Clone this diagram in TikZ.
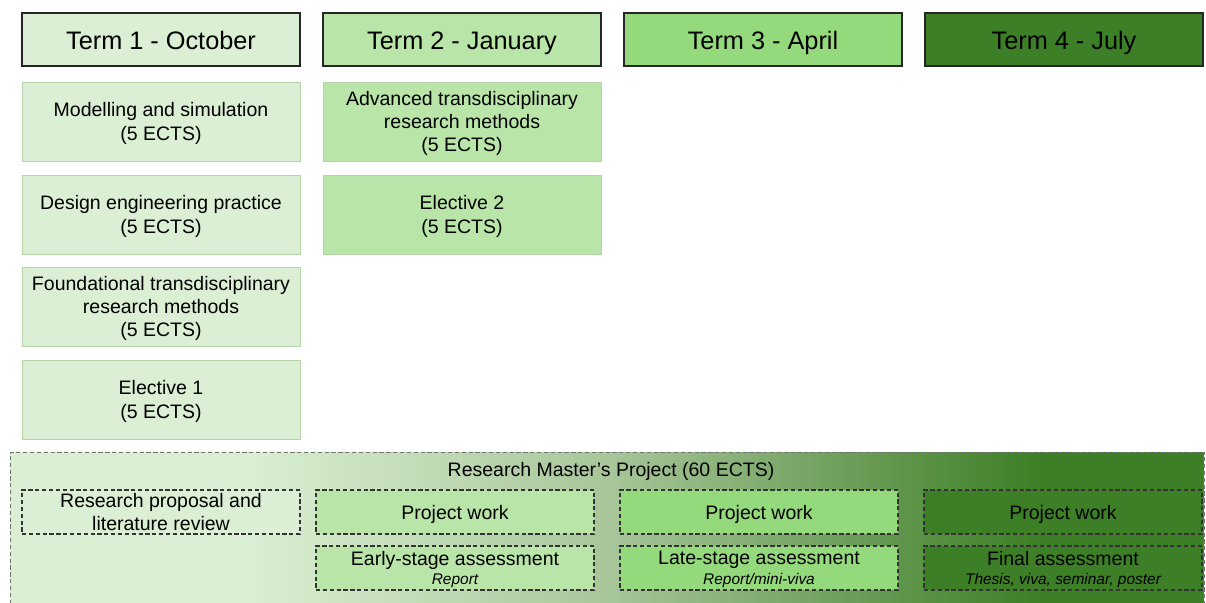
\documentclass[tikz,border=0pt]{standalone}
\usepackage{fontspec}
\setmainfont{Liberation Sans}
\usepackage{xcolor}
\definecolor{termA}{HTML}{DAEFD3}
\definecolor{termB}{HTML}{B9E5A8}
\definecolor{termC}{HTML}{94D97B}
\definecolor{termD}{HTML}{3D7F27}
\definecolor{projmid}{HTML}{A8C69A}
\definecolor{modline}{HTML}{B6D3AA}
\pgfdeclarehorizontalshading{projshade}{100bp}{color(0bp)=(termA); color(35bp)=(termA); color(50bp)=(projmid); color(68bp)=(termD); color(100bp)=(termD)}
\newcommand{\headfont}{\fontsize{14.4}{17}\selectfont}
\newcommand{\modfont}{\fontsize{11.1}{13.2}\selectfont}
\newcommand{\notefont}{\fontsize{8.8}{10.5}\selectfont\itshape}

\begin{document}
\begin{tikzpicture}[x=0.02cm,y=-0.02cm,
    term/.style={draw=black!85,line width=0.8pt,minimum width=5.56cm,minimum height=1.06cm,text height=2.05ex,text depth=0pt,font=\headfont},
    module/.style={draw=modline,line width=0.5pt,minimum width=5.56cm,minimum height=1.58cm,align=center,text depth=0pt,font=\modfont},
    task/.style={draw=black!80,line width=0.7pt,dash pattern=on 2.4pt off 1.5pt,minimum width=5.56cm,minimum height=0.88cm,align=center,text depth=0pt,font=\modfont,inner sep=1pt},
    projbox/.style={draw=black!55,line width=0.7pt,dash pattern=on 2.4pt off 1.5pt,shading=projshade,minimum width=23.88cm,minimum height=3.3cm}]
        \useasboundingbox (0,0) rectangle (1206,602);
        % terms
        \node[term,fill=termA] (t1) at (161,39.5) {Term 1 - October};
        \node[term,fill=termB] (t2) at (462,39.5) {Term 2 - January};
        \node[term,fill=termC] (t3) at (763,39.5) {Term 3 - April};
        \node[term,fill=termD] (t4) at (1064,39.5) {Term 4 - July};
        % taught modules
        \node[module,fill=termA] (modsim) at (161,121.5) {Modelling and simulation\\(5 ECTS)};
        \node[module,fill=termA] (design) at (161,214.5) {Design engineering practice\\(5 ECTS)};
        \node[module,fill=termA] (found) at (161,306.5) {Foundational transdisciplinary\\research methods\\(5 ECTS)};
        \node[module,fill=termA] (elecA) at (161,399.5) {Elective 1\\(5 ECTS)};
        \node[module,fill=termB] (adv) at (462,121.5) {Advanced transdisciplinary\\research methods\\(5 ECTS)};
        \node[module,fill=termB] (elecB) at (462,214.5) {Elective 2\\(5 ECTS)};
        % project
        \node[projbox] (proj) at (607,535) {};
        \node[font=\modfont,text depth=0pt] (projtitle) at (611,469) {Research Master’s Project (60 ECTS)};
        \node[task,fill=termA] (proposal) at (161,512) {Research proposal and\\[0pt]literature review};
        \node[task,fill=termB] (workB) at (455,512) {Project work};
        \node[task,fill=termC] (workC) at (759,512) {Project work};
        \node[task,fill=termD] (workD) at (1063,512) {Project work};
        \node[task,fill=termB] (early) at (455,568) {Early-stage assessment\\[-2pt]{\notefont Report}};
        \node[task,fill=termC] (late) at (759,568) {Late-stage assessment\\[-2pt]{\notefont Report/mini-viva}};
        \node[task,fill=termD] (final) at (1063,568) {Final assessment\\[-2pt]{\notefont Thesis, viva, seminar, poster}};
    \end{tikzpicture}
\end{document}
